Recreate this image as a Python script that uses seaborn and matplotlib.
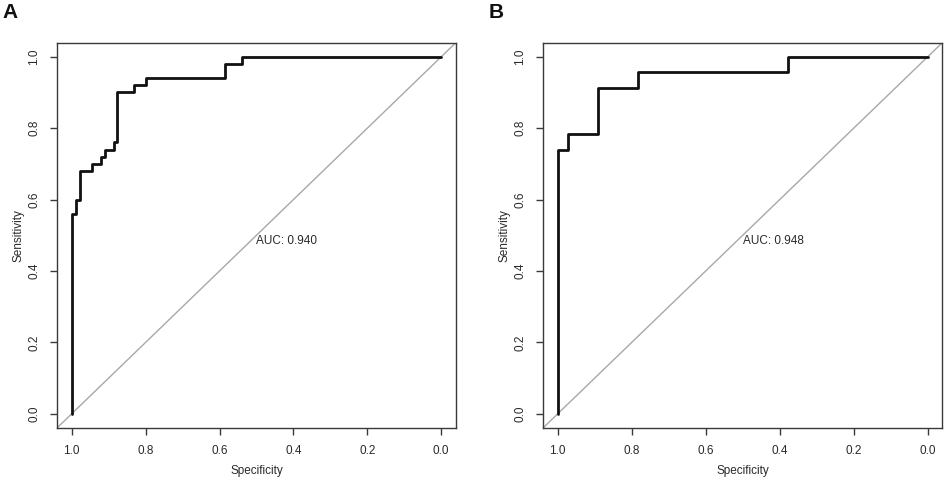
import matplotlib
matplotlib.use("Agg")
import matplotlib.pyplot as plt
import seaborn as sns
import pandas as pd

# Panel A ROC vertices (specificity, sensitivity)
spec_a = [1.0, 1.0, 0.989, 0.977, 0.944, 0.922, 0.911, 0.887, 0.877, 0.831, 0.798, 0.585, 0.539, 0.0]
sens_a = [0.0, 0.56, 0.60, 0.68, 0.70, 0.72, 0.74, 0.76, 0.90, 0.92, 0.94, 0.98, 1.0, 1.0]
auc_a = "AUC: 0.940"

# Panel B ROC vertices
spec_b = [1.0, 1.0, 0.973, 0.892, 0.784, 0.378, 0.0]
sens_b = [0.0, 0.739, 0.783, 0.913, 0.957, 1.0, 1.0]
auc_b = "AUC: 0.948"

ticks = [1.0, 0.8, 0.6, 0.4, 0.2, 0.0]
tick_labels = ["1.0", "0.8", "0.6", "0.4", "0.2", "0.0"]
ytick_labels = ["0.0", "0.2", "0.4", "0.6", "0.8", "1.0"]
panel_labels = ["A", "B"]

sns.set_style("white")
plt.rcParams["font.family"] = ["Liberation Sans", "DejaVu Sans"]

fig = plt.figure(figsize=(9.45, 4.78), dpi=100)
W, H = 945, 478
boxes = [(57, 456), (543, 942.5)]
top, bottom = 42.5, 428

datasets = [(spec_a, sens_a, auc_a), (spec_b, sens_b, auc_b)]
edge = "#3a3a3a"
txt = "#2a2a2a"
fs = 8.5
for i, ((x0, x1), (sp, se, auc)) in enumerate(zip(boxes, datasets)):
    ax = fig.add_axes([x0 / W, (H - bottom) / H, (x1 - x0) / W, (bottom - top) / H])
    ax.set_facecolor("white")
    ax.axline((1.0, 0.0), (0.0, 1.0), color="#a8a8a8", lw=1.0, zorder=1)
    df = pd.DataFrame({"Specificity": sp, "Sensitivity": se})
    sns.lineplot(data=df, x="Specificity", y="Sensitivity", sort=False, estimator=None,
                 drawstyle="steps-post", color="#111111", lw=2.0, ax=ax, zorder=3)
    ax.set_xlim(1.04, -0.04)
    ax.set_ylim(-0.04, 1.04)
    ax.set_xticks(ticks)
    ax.set_xticklabels(tick_labels)
    ax.set_yticks([0.0, 0.2, 0.4, 0.6, 0.8, 1.0])
    ax.set_yticklabels(ytick_labels)
    for lab in ax.get_yticklabels():
        lab.set_rotation(90)
        lab.set_va("center")
    ax.tick_params(axis="both", which="both", direction="out", length=5, width=1.0,
                   color=edge, labelsize=fs, labelcolor=txt, pad=7,
                   bottom=True, left=True, top=False, right=False)
    for s in ax.spines.values():
        s.set_color(edge)
        s.set_linewidth(1.0)
    ax.set_xlabel("Specificity", fontsize=fs, color=txt, labelpad=6)
    ax.set_ylabel("Sensitivity", fontsize=fs, color=txt, labelpad=3)
    ax.text(0.5, 0.5, auc, ha="left", va="top", fontsize=fs, color=txt)
    lx = 2 if i == 0 else 489
    fig.text(lx / W, 1 - 3 / H, panel_labels[i], ha="left", va="top",
             fontsize=15, fontweight="bold", color="#111111")

fig.savefig("out.png", dpi=100, facecolor="white")
